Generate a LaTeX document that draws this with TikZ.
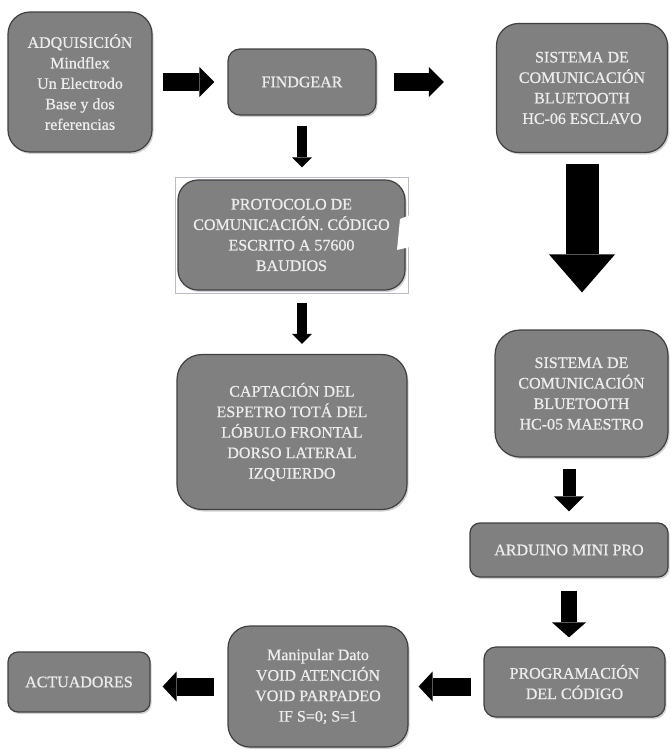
\documentclass[tikz,border=0pt]{standalone}
\usepackage{fontspec}
\setmainfont{Liberation Serif}[FakeBold=0.7]
\usetikzlibrary{arrows.meta,shadows}

\begin{document}
\begin{tikzpicture}[x=1pt,y=-1pt,
    caja/.style={draw=black!75, line width=1.2pt, fill=black!50, text=white!93!black,
      align=center, font=\fontsize{16}{20.5}\selectfont,
      drop shadow={opacity=0.35, shadow xshift=1.5pt, shadow yshift=-2pt}},
    blockarrow/.style n args={3}{line width=#1, -{Triangle[width=#2, length=#3, line width=0pt]}}]
  \useasboundingbox (0,0) rectangle (671,750);
  % bloques
  \node[caja, rounded corners=22pt, minimum width=144pt, minimum height=140pt] (adq) at (80,82) {ADQUISICIÓN\\Mindflex\\Un Electrodo\\Base y dos\\referencias};
  \node[caja, rounded corners=12pt, minimum width=148pt, minimum height=66pt] (find) at (302,82) {FINDGEAR};
  \node[caja, rounded corners=22pt, minimum width=171pt, minimum height=129pt] (hc06) at (582,88) {SISTEMA DE\\COMUNICACIÓN\\BLUETOOTH\\HC-06 ESCLAVO};
  \draw[draw=blue!20!gray!45, line width=0.6pt] (175,177) rectangle (408,293);
  \node[caja, rounded corners=20pt, minimum width=227pt, minimum height=110pt] (proto) at (291.5,235) {PROTOCOLO DE\\COMUNICACIÓN. CÓDIGO\\ESCRITO A 57600\\BAUDIOS};
  \fill[white] (400,219) -- (410,215) -- (410,247) -- (397,250) -- cycle;
  \node[caja, rounded corners=25pt, minimum width=230pt, minimum height=155pt] (capt) at (292,432) {CAPTACIÓN DEL\\ESPETRO TOTÁ DEL\\LÓBULO FRONTAL\\DORSO LATERAL\\IZQUIERDO};
  \node[caja, rounded corners=25pt, minimum width=173pt, minimum height=127pt] (hc05) at (581.5,393.5) {SISTEMA DE\\COMUNICACIÓN\\BLUETOOTH\\HC-05 MAESTRO};
  \node[caja, rounded corners=10pt, minimum width=198pt, minimum height=54pt] (ard) at (569,550) {ARDUINO MINI PRO};
  \node[caja, rounded corners=12pt, minimum width=181pt, minimum height=70pt] (prog) at (574.5,682) {PROGRAMACIÓN\\DEL CÓDIGO};
  \node[caja, rounded corners=22pt, minimum width=180pt, minimum height=121pt] (manip) at (318,686.5) {Manipular Dato\\VOID ATENCIÓN\\VOID PARPADEO\\IF S=0; S=1};
  \node[caja, rounded corners=10pt, minimum width=142pt, minimum height=60pt] (act) at (79,682) {ACTUADORES};
  % flechas
  \draw[blockarrow={18pt}{30pt}{15pt}, shorten <=10pt, shorten >=13pt] (adq) -- (find);
  \draw[blockarrow={18pt}{30pt}{15pt}, shorten <=17pt, shorten >=52pt] (find) -- (find -| hc06.west);
  \draw[blockarrow={10pt}{20pt}{10pt}, shorten <=10pt, shorten >=12pt] (find.south) -- (find.south |- proto.north);
  \draw[blockarrow={10pt}{20pt}{10pt}, shorten <=12pt, shorten >=10pt] (find.south |- proto.south) -- (find.south |- capt.north);
  \draw[blockarrow={33pt}{66pt}{38pt}, shorten <=11pt, shorten >=37pt] (hc06.south) -- (hc06.south |- hc05.north);
  \draw[blockarrow={13pt}{30pt}{15pt}, shorten <=11pt, shorten >=11pt] (hc05.south -| ard.north) -- (ard.north);
  \draw[blockarrow={16pt}{34pt}{15pt}, shorten <=13pt, shorten >=9pt] (ard.south) -- (ard.south |- prog.north);
  \draw[blockarrow={18pt}{30pt}{14pt}, shorten <=12pt, shorten >=10pt] (prog.west |- manip.east) -- (manip.east);
  \draw[blockarrow={18pt}{30pt}{14pt}, shorten <=13pt, shorten >=12pt] (manip.west) -- (manip.west -| act.east);
\end{tikzpicture}
\end{document}
